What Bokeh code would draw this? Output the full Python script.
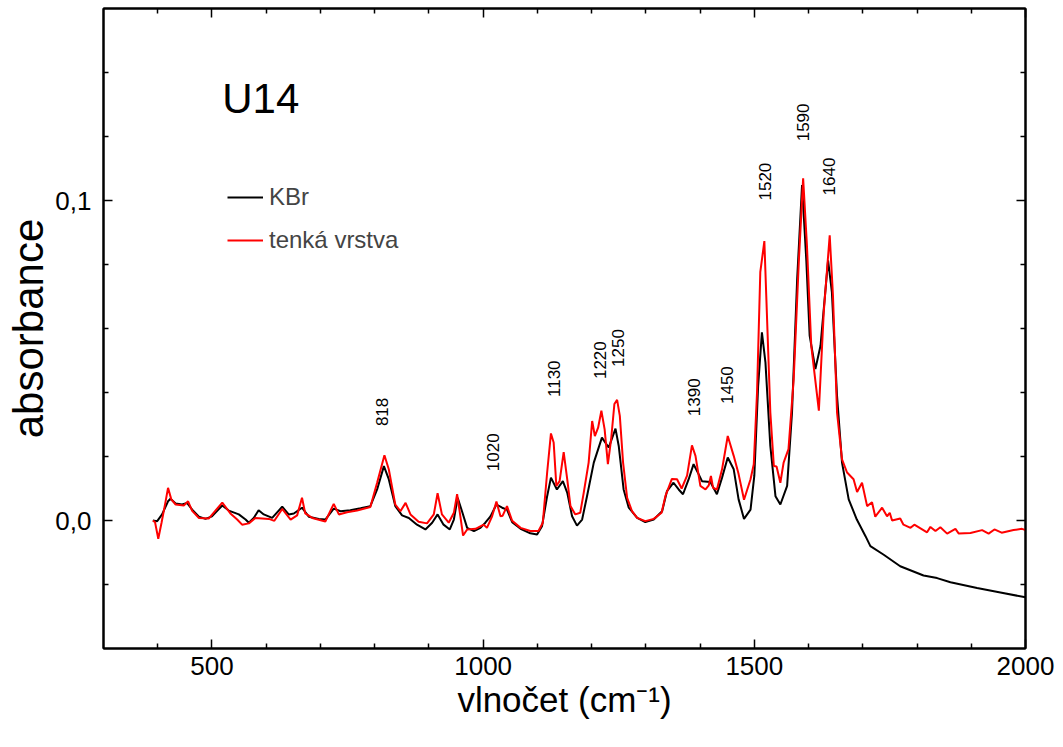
from bokeh.plotting import figure
from bokeh.models import (Range1d, FixedTicker, CustomJSTickFormatter, LinearAxis,
                          Legend, LegendItem, ColumnDataSource)
from bokeh.core.properties import value
from bokeh.embed import file_html
from bokeh.resources import INLINE
import math

# ---- data (wavenumber cm^-1, absorbance) ----
kbr_x = [391, 399, 408, 419, 423.5, 433, 445, 454, 463.5, 476, 488, 500, 519, 531, 549.5, 562, 568, 577, 586,
         595.5, 611, 629.5, 641.5, 651, 666, 678.5, 697, 709, 724.5, 737, 755, 774, 792, 804.5, 817, 826, 838,
         850.5, 863, 878, 893.5, 906, 916, 927, 938.5, 946, 953, 961, 970.5, 983, 995, 1004, 1013.5, 1024.5,
         1035, 1044, 1053.5, 1069, 1087, 1099.5, 1108.5, 1118, 1125, 1136, 1147, 1155, 1164, 1173, 1182.5,
         1191.5, 1204, 1219, 1231.5, 1244, 1250, 1259, 1268.5, 1284, 1299, 1314.5, 1330, 1339, 1351, 1360.5,
         1368.5, 1379, 1388, 1397.5, 1403.5, 1419, 1431, 1440.5, 1451, 1462, 1471, 1481, 1493, 1500, 1507,
         1514, 1520.5, 1529.5, 1539, 1548, 1560.5, 1569.5, 1579, 1588, 1596, 1602, 1612.6, 1622, 1636, 1643,
         1652.5, 1661.7, 1674, 1689, 1705, 1714, 1738.6, 1769, 1812, 1837, 1861.6, 1910.7, 1953.7, 2000]
kbr_y = [0.0, -0.0002, 0.0019, 0.006, 0.0068, 0.0053, 0.005, 0.0055, 0.0034, 0.0012, 0.0005, 0.0013, 0.0047,
         0.0031, 0.0019, 0.0003, -0.0007, 0.0008, 0.0032, 0.0019, 0.0008, 0.0043, 0.0019, 0.0022, 0.004, 0.0012,
         0.0005, 0.0003, 0.0037, 0.0029, 0.0032, 0.0038, 0.0045, 0.0097, 0.017, 0.0129, 0.0045, 0.0016, 0.0008,
         -0.0013, -0.0028, -0.0007, 0.0019, -0.0013, -0.0028, 0.0003, 0.0071, 0.0029, -0.0023, -0.0033, -0.0023,
         -0.0007, 0.0013, 0.005, 0.004, 0.0034, -0.0005, -0.0026, -0.004, -0.0044, -0.0018, 0.0076, 0.0134,
         0.0097, 0.0123, 0.0087, 0.0013, -0.0016, 0.0003, 0.0076, 0.0181, 0.0259, 0.0228, 0.0287, 0.0233, 0.0097,
         0.004, 0.0008, -0.0005, 0.0003, 0.0029, 0.0092, 0.0118, 0.0097, 0.0082, 0.0129, 0.0176, 0.0144, 0.0123,
         0.012, 0.0082, 0.0134, 0.0197, 0.016, 0.0066, 0.0005, 0.0034, 0.014, 0.042, 0.0588, 0.0494, 0.0233,
         0.0076, 0.005, 0.0108, 0.0338, 0.0755, 0.1048, 0.0808, 0.0578, 0.0473, 0.0546, 0.0813, 0.0714, 0.039,
         0.0181, 0.0066, 0.0003, -0.0049, -0.008, -0.0107, -0.0143, -0.0172, -0.018, -0.0193, -0.0211, -0.0225,
         -0.024]

film_x = [391, 395, 401, 407, 414, 419, 425, 433, 448, 456, 463.5, 476, 494, 519, 534, 546.5, 555.5, 568, 580,
          605, 615, 629.5, 645, 657, 666, 672, 685, 709, 724.5, 734, 749, 767.5, 792, 804.5, 818, 826, 838,
          847.5, 857, 866, 881, 896.5, 909, 916, 924, 936.5, 946, 952, 958, 963, 970.5, 986, 1001, 1007, 1016.5,
          1024.5, 1032, 1036, 1044, 1053.5, 1069, 1087, 1102, 1110, 1118, 1125, 1130, 1135, 1141, 1148.5, 1155,
          1161, 1170, 1179, 1185.5, 1194.5, 1201, 1206, 1212, 1218, 1224, 1230, 1236, 1242, 1247, 1252, 1258,
          1265.5, 1274.5, 1284, 1299, 1314.5, 1329, 1336, 1348, 1357.5, 1366, 1376, 1385, 1391.5, 1400.5, 1410,
          1416, 1420, 1424, 1431, 1440.5, 1451, 1462, 1471, 1481, 1493, 1499, 1505, 1511, 1518.5, 1522, 1529.5,
          1536, 1541, 1548, 1554, 1563, 1572.6, 1582, 1590, 1597, 1605, 1619, 1628, 1639, 1645, 1652.5, 1661.7,
          1671, 1683, 1689.5, 1698.6, 1708, 1717, 1723, 1735.6, 1744.7, 1749.7, 1754, 1769, 1775, 1788, 1795,
          1818.5, 1824.7, 1834, 1843, 1855.5, 1870.8, 1877, 1898.5, 1920, 1932, 1942.7, 1956, 1978, 1993.6, 2000]
film_y = [0.0, -0.0005, -0.0057, -0.0007, 0.0055, 0.0102, 0.0066, 0.005, 0.0047, 0.006, 0.003, 0.0008, 0.0006,
          0.0056, 0.0022, 0.0003, -0.0013, -0.0009, 0.0008, 0.0005, -0.0001, 0.0036, 0.0003, 0.0016, 0.0071,
          0.0022, 0.0008, -0.0003, 0.0052, 0.0019, 0.0026, 0.0031, 0.0042, 0.0118, 0.0204, 0.016, 0.005, 0.0029,
          0.0055, 0.0019, -0.0004, -0.0009, 0.0019, 0.0085, 0.0019, -0.0007, 0.0024, 0.0082, 0.0013, -0.0047,
          -0.0028, -0.0026, -0.0013, -0.0023, 0.0013, 0.0059, 0.0013, 0.0015, 0.0045, -0.0001, -0.0023, -0.0033,
          -0.0033, -0.0007, 0.015, 0.0272, 0.0244, 0.0108, 0.0123, 0.0214, 0.0129, 0.0045, 0.0019, 0.0024, 0.0087,
          0.0181, 0.0311, 0.0264, 0.029, 0.0343, 0.0285, 0.0176, 0.0254, 0.0364, 0.0377, 0.0327, 0.0181, 0.0071,
          0.0029, 0.0008, -0.0002, 0.0005, 0.0024, 0.0076, 0.013, 0.0129, 0.010, 0.014, 0.0235, 0.0202, 0.0108,
          0.0097, 0.011, 0.0139, 0.0102, 0.0097, 0.016, 0.0264, 0.0202, 0.0145, 0.0065, 0.0129, 0.0176, 0.04,
          0.0776, 0.0873, 0.0703, 0.0338, 0.017, 0.0169, 0.0118, 0.0181, 0.0223, 0.0442, 0.0808, 0.1069, 0.086,
          0.0546, 0.0343, 0.0651, 0.0891, 0.0703, 0.0338, 0.0191, 0.015, 0.0129, 0.0089, 0.0118, 0.0045, 0.0057,
          0.0012, 0.004, 0.0013, 0.0024, 0.0, 0.0006, -0.0013, -0.0023, -0.0013, -0.0037, -0.002, -0.0033,
          -0.0021, -0.0041, -0.0026, -0.0041, -0.0039, -0.003, -0.0041, -0.0028, -0.0038, -0.003, -0.0026, -0.003]

peak_labels = ["818", "1020", "1130", "1220", "1250", "1390", "1450", "1520", "1590", "1640"]
peak_label_x = [814, 1019, 1130, 1216, 1248, 1388, 1449, 1519, 1589, 1637]
peak_label_y = [0.0295, 0.0154, 0.0386, 0.0442, 0.048, 0.0326, 0.0364, 0.100, 0.1185, 0.1016]

x_major = [500, 1000, 1500, 2000]
x_minor = [400, 600, 700, 800, 900, 1100, 1200, 1300, 1400, 1600, 1700, 1800, 1900]
y_major = [0.0, 0.1]
y_minor = [-0.02, 0.02, 0.04, 0.06, 0.08, 0.12, 0.14]

FONT = "Liberation Sans"

p = figure(width=1063, height=747, output_backend="svg", toolbar_location=None,
           x_range=Range1d(300, 2000), y_range=Range1d(-0.04, 0.16),
           min_border_left=103, min_border_right=38, min_border_top=8, min_border_bottom=99,
           x_axis_type=None, y_axis_type=None)
p.grid.visible = False
p.outline_line_color = "black"
p.outline_line_width = 2
p.background_fill_color = "white"
p.border_fill_color = "white"

xt = FixedTicker(ticks=x_major, minor_ticks=x_minor)
yt = FixedTicker(ticks=y_major, minor_ticks=y_minor)
yfmt = CustomJSTickFormatter(code="return tick.toFixed(1).replace('.', ',');")
blank = CustomJSTickFormatter(code="return '';")


def style(ax, labels=True):
    ax.axis_line_width = 2
    ax.major_tick_line_width = 1.5
    ax.minor_tick_line_width = 1.5
    ax.major_tick_in = 9
    ax.major_tick_out = 0
    ax.minor_tick_in = 5
    ax.minor_tick_out = 0
    if labels:
        ax.major_label_text_font = FONT
        ax.major_label_text_font_size = "26px"
        ax.major_label_text_color = "black"
        ax.axis_label_text_font = FONT
        ax.axis_label_text_font_style = "normal"
        ax.axis_label_text_color = "black"
    else:
        ax.formatter = blank
        ax.major_label_text_font_size = "1px"
        ax.major_label_standoff = 0
        ax.axis_label = None


xb = LinearAxis(ticker=xt, axis_label="vlnočet (cm⁻¹)")
style(xb)
xb.major_label_standoff = 8
xb.axis_label_text_font_size = "35px"
xb.axis_label_standoff = 2
p.add_layout(xb, "below")

yl = LinearAxis(ticker=yt, formatter=yfmt, axis_label="absorbance")
style(yl)
yl.major_label_standoff = 12
yl.axis_label_text_font_size = "42px"
yl.axis_label_standoff = 0
p.add_layout(yl, "left")

xa = LinearAxis(ticker=xt)
style(xa, labels=False)
p.add_layout(xa, "above")
yr = LinearAxis(ticker=yt)
style(yr, labels=False)
p.add_layout(yr, "right")

r_kbr = p.line(kbr_x, kbr_y, line_color="black", line_width=2)
r_film = p.line(film_x, film_y, line_color="#ff0000", line_width=2)

src = ColumnDataSource(dict(x=peak_label_x, y=peak_label_y, t=peak_labels))
p.text(x="x", y="y", text="t", source=src, angle=math.pi / 2, text_align="left",
       text_baseline="middle", text_font=value(FONT), text_font_size="17px", text_color="black")

p.text(x=[519], y=[0.132], text=["U14"], text_font=value(FONT), text_font_size="42px",
       text_color="black", text_align="left", text_baseline="alphabetic")

legend = Legend(items=[LegendItem(label="KBr", renderers=[r_kbr]),
                       LegendItem(label="tenká vrstva", renderers=[r_film])],
                location=(124, 394), border_line_color=None, background_fill_alpha=0,
                glyph_width=36, glyph_height=20, label_height=20, spacing=15, padding=0, margin=0,
                label_text_font=FONT, label_text_font_size="24px", label_standoff=6)
p.add_layout(legend)

open("out.html", "w").write(file_html(p, INLINE))
